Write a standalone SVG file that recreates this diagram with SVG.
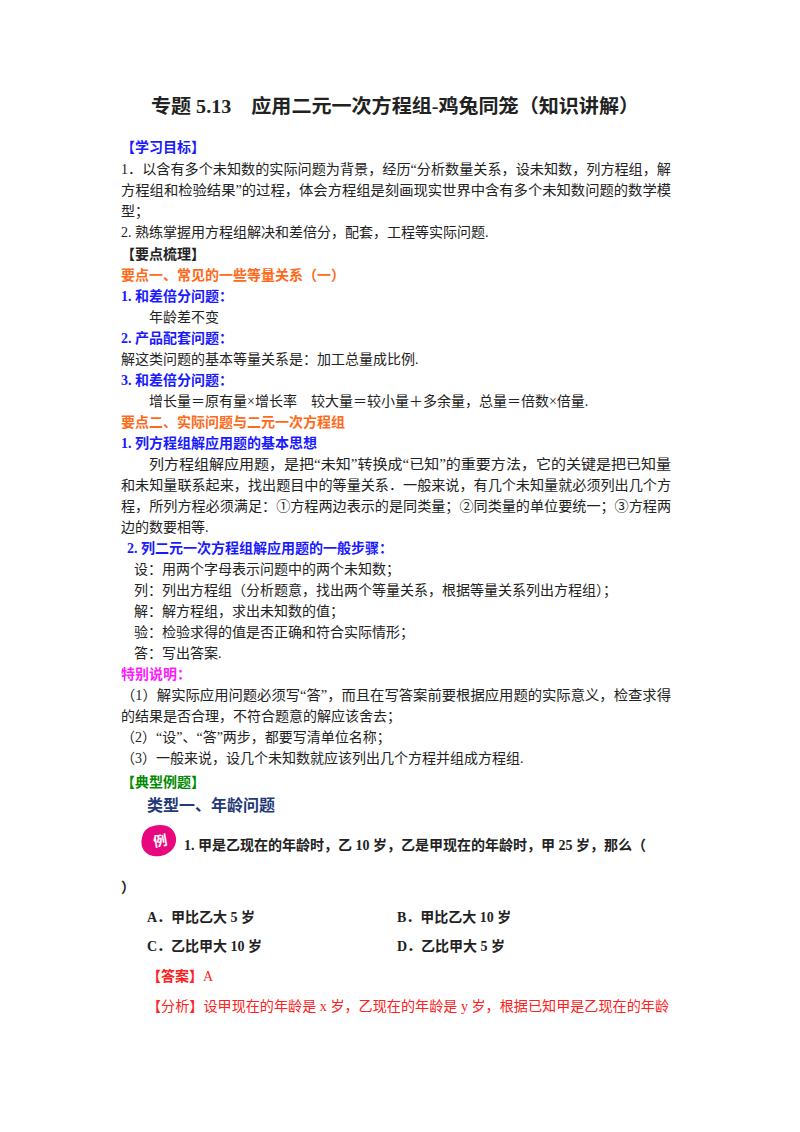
<svg xmlns="http://www.w3.org/2000/svg" width="800" height="1132" viewBox="0 0 800 1132">
<style>
text{font-family:"Liberation Serif","Noto Sans CJK SC",serif;font-size:14px;fill:#222}
.b{font-weight:bold}
.blue{fill:#1a1aff;font-weight:bold}
.or{fill:#ff6a1a;font-weight:bold}
.mag{fill:#ff1aff;font-weight:bold}
.gr{fill:#008a00;font-weight:bold}
.red{fill:#ff2020}
</style>
<rect width="800" height="1132" fill="#fff"/>
<text x="151" y="113" class="b" style="font-size:19px" fill="#000" textLength="488" lengthAdjust="spacingAndGlyphs">专题 5.13　应用二元一次方程组-鸡兔同笼（知识讲解）</text>
<text x="121" y="152" class="blue">【学习目标】</text>
<text x="121" y="174" textLength="550" lengthAdjust="spacingAndGlyphs">1．以含有多个未知数的实际问题为背景，经历“分析数量关系，设未知数，列方程组，解</text>
<text x="121" y="195" textLength="550" lengthAdjust="spacingAndGlyphs">方程组和检验结果”的过程，体会方程组是刻画现实世界中含有多个未知数问题的数学模</text>
<text x="121" y="216">型；</text>
<text x="121" y="237">2. 熟练掌握用方程组解决和差倍分，配套，工程等实际问题.</text>
<text x="121" y="259" class="b" fill="#000">【要点梳理】</text>
<text x="121" y="280" class="or">要点一、常见的一些等量关系（一）</text>
<text x="121" y="301" class="blue">1. 和差倍分问题：</text>
<text x="149" y="322">年龄差不变</text>
<text x="121" y="343" class="blue">2. 产品配套问题：</text>
<text x="121" y="364">解这类问题的基本等量关系是：加工总量成比例.</text>
<text x="121" y="385" class="blue">3. 和差倍分问题：</text>
<text x="149" y="406">增长量＝原有量×增长率　较大量＝较小量＋多余量，总量＝倍数×倍量.</text>
<text x="121" y="427" class="or">要点二、实际问题与二元一次方程组</text>
<text x="121" y="448" class="blue">1. 列方程组解应用题的基本思想</text>
<text x="149" y="469" textLength="522" lengthAdjust="spacingAndGlyphs">列方程组解应用题，是把“未知”转换成“已知”的重要方法，它的关键是把已知量</text>
<text x="121" y="490" textLength="550" lengthAdjust="spacingAndGlyphs">和未知量联系起来，找出题目中的等量关系．一般来说，有几个未知量就必须列出几个方</text>
<text x="121" y="511" textLength="550" lengthAdjust="spacingAndGlyphs">程，所列方程必须满足：①方程两边表示的是同类量；②同类量的单位要统一；③方程两</text>
<text x="121" y="532">边的数要相等.</text>
<text x="127" y="553" class="blue">2. 列二元一次方程组解应用题的一般步骤：</text>
<text x="134" y="574">设：用两个字母表示问题中的两个未知数；</text>
<text x="134" y="595">列：列出方程组（分析题意，找出两个等量关系，根据等量关系列出方程组）；</text>
<text x="134" y="616">解：解方程组，求出未知数的值；</text>
<text x="134" y="637">验：检验求得的值是否正确和符合实际情形；</text>
<text x="134" y="658">答：写出答案.</text>
<text x="121" y="679" class="mag">特别说明：</text>
<text x="121" y="700" textLength="550" lengthAdjust="spacingAndGlyphs">（1）解实际应用问题必须写“答”，而且在写答案前要根据应用题的实际意义，检查求得</text>
<text x="121" y="721">的结果是否合理，不符合题意的解应该舍去；</text>
<text x="121" y="742">（2）“设”、“答”两步，都要写清单位名称；</text>
<text x="121" y="763">（3）一般来说，设几个未知数就应该列出几个方程并组成方程组.</text>
<text x="121" y="787" class="gr">【典型例题】</text>
<text x="147" y="811" class="b" style="font-size:16px;fill:#1f3a78">类型一、年龄问题</text>
<g id="icon">
<path d="M150 827 C162 822 175 826 176 838 C177 850 165 858 153 856 C143 854 140 845 142 838 C143 832 146 829 150 827 Z" fill="#e8087e"/>
<text x="153" y="846" style="font-size:14px;fill:#fff;font-weight:bold" transform="rotate(-10 159 840)">例</text>
</g>
<text x="184" y="850" class="b" fill="#000">1. 甲是乙现在的年龄时，乙 10 岁，乙是甲现在的年龄时，甲 25 岁，那么（</text>
<text x="121" y="892" class="b" fill="#000">）</text>
<text x="147" y="922" class="b" fill="#000">A．甲比乙大 5 岁</text>
<text x="397" y="922" class="b" fill="#000">B．甲比乙大 10 岁</text>
<text x="147" y="951" class="b" fill="#000">C．乙比甲大 10 岁</text>
<text x="397" y="951" class="b" fill="#000">D．乙比甲大 5 岁</text>
<text x="147" y="981" class="red"><tspan font-weight="bold">【答案】</tspan>A</text>
<text x="147" y="1011" class="red" textLength="522" lengthAdjust="spacingAndGlyphs">【分析】设甲现在的年龄是 x 岁，乙现在的年龄是 y 岁，根据已知甲是乙现在的年龄</text>
</svg>
